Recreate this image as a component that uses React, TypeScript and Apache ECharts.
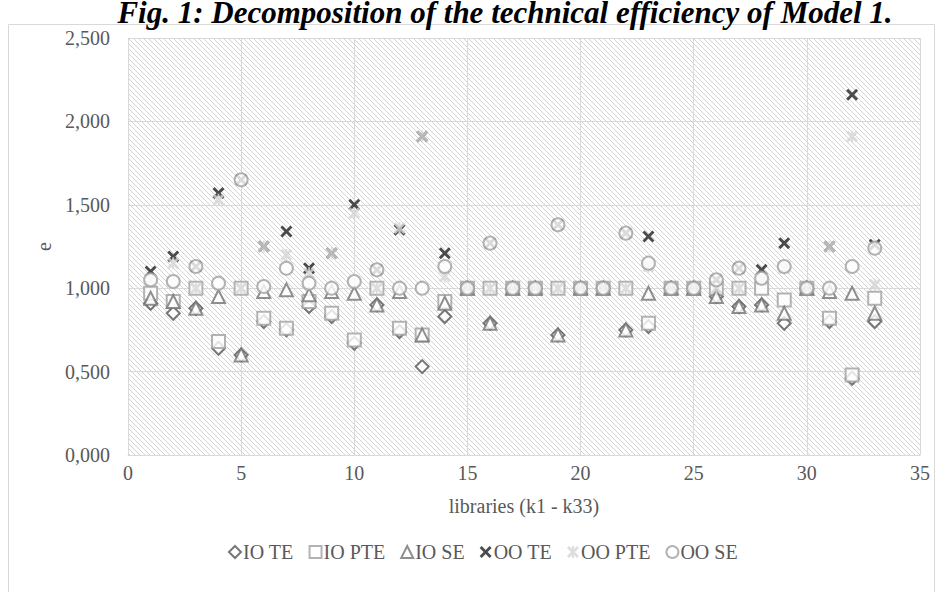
import React, { useEffect, useRef } from "react";
import * as echarts from "echarts";

const libraries = [1,2,3,4,5,6,7,8,9,10,11,12,13,14,15,16,17,18,19,20,21,22,23,24,25,26,27,28,29,30,31,32,33];

const ioTE = [0.91,0.85,0.88,0.64,0.60,0.80,0.75,0.89,0.83,0.67,0.90,0.74,0.53,0.83,1.00,0.79,1.00,1.00,0.72,1.00,1.00,0.75,0.77,1.00,1.00,0.95,0.89,0.90,0.79,1.00,0.80,0.46,0.80];
const ioPTE = [0.97,0.92,1.00,0.68,1.00,0.82,0.76,0.92,0.85,0.69,1.00,0.76,0.72,0.92,1.00,1.00,1.00,1.00,1.00,1.00,1.00,1.00,0.79,1.00,1.00,1.00,1.00,1.00,0.93,1.00,0.82,0.48,0.94];
const ioSE = [0.94,0.92,0.88,0.95,0.60,0.98,0.99,0.96,0.98,0.97,0.90,0.98,0.72,0.91,1.00,0.79,1.00,1.00,0.72,1.00,1.00,0.75,0.97,1.00,1.00,0.95,0.89,0.90,0.85,1.00,0.98,0.97,0.85];
const ooTE = [1.10,1.19,1.13,1.57,1.65,1.25,1.34,1.12,1.21,1.50,1.11,1.35,1.91,1.21,1.00,1.27,1.00,1.00,1.38,1.00,1.00,1.33,1.31,1.00,1.00,1.05,1.12,1.11,1.27,1.00,1.25,2.16,1.26];
const ooPTE = [1.05,1.15,1.00,1.53,1.00,1.25,1.20,1.09,1.21,1.45,1.00,1.36,1.91,1.07,1.00,1.00,1.00,1.00,1.00,1.00,1.00,1.00,1.13,1.00,1.00,1.00,1.00,1.05,1.12,1.00,1.25,1.91,1.02];
const ooSE = [1.05,1.04,1.13,1.03,1.65,1.01,1.12,1.03,1.00,1.04,1.11,1.00,1.00,1.13,1.00,1.27,1.00,1.00,1.38,1.00,1.00,1.33,1.15,1.00,1.00,1.05,1.12,1.06,1.13,1.00,1.00,1.13,1.24];

const seriesNames = ["IO TE", "IO PTE", "IO SE", "OO TE", "OO PTE", "OO SE"];
const titleText = "Fig. 1: Decomposition of the technical efficiency of Model 1.";
const xAxisName = "libraries (k1 - k33)";
const yAxisName = "e";

const X_PATH = "path://M0,1.7 L1.7,0 L5,3.3 L8.3,0 L10,1.7 L6.7,5 L10,8.3 L8.3,10 L5,6.7 L1.7,10 L0,8.3 L3.3,5 Z";
const STAR_PATH = "path://M0,1.7 L1.7,0 L5,3.3 L8.3,0 L10,1.7 L6.7,5 L10,8.3 L8.3,10 L5,6.7 L1.7,10 L0,8.3 L3.3,5 Z M4.2,0 L5.8,0 L5.8,10 L4.2,10 Z";

function makeHatch(): string {
  const c = document.createElement("canvas");
  c.width = 5;
  c.height = 5;
  const ctx = c.getContext("2d")!;
  ctx.fillStyle = "#ffffff";
  ctx.fillRect(0, 0, 5, 5);
  ctx.strokeStyle = "#d3d3d3";
  ctx.lineWidth = 1;
  ctx.beginPath();
  ctx.moveTo(-1, -1);
  ctx.lineTo(6, 6);
  ctx.moveTo(-1, 4);
  ctx.lineTo(1, 6);
  ctx.moveTo(4, -1);
  ctx.lineTo(6, 1);
  ctx.stroke();
  return c.toDataURL();
}

export default function App() {
  const ref = useRef<HTMLDivElement>(null);
  useEffect(() => {
    if (!ref.current) return;
    const chart = echarts.init(ref.current, null, { renderer: "svg" });
    const font = "Liberation Serif";
    const pair = (arr: number[]) => libraries.map((k, i) => [k, arr[i]]);
    const hollow = (color: string) => ({ color: "#ffffff", borderColor: color, borderWidth: 2 });
    const series: any[] = [
      { name: seriesNames[0], data: pair(ioTE), symbol: "diamond", symbolSize: 13, itemStyle: hollow("#555555") },
      { name: seriesNames[1], data: pair(ioPTE), symbol: "rect", symbolSize: 13, itemStyle: hollow("#a0a0a0") },
      { name: seriesNames[2], data: pair(ioSE), symbol: "triangle", symbolSize: 13, itemStyle: hollow("#737373") },
      { name: seriesNames[3], data: pair(ooTE), symbol: X_PATH, symbolSize: 12, itemStyle: { color: "#1f1f1f" } },
      { name: seriesNames[4], data: pair(ooPTE), symbol: STAR_PATH, symbolSize: 12, itemStyle: { color: "#d4d4d4" } },
      { name: seriesNames[5], data: pair(ooSE), symbol: "circle", symbolSize: 13, itemStyle: hollow("#a0a0a0") },
    ].map((s) => ({ ...s, type: "scatter" }));

    chart.setOption({
      animation: false,
      backgroundColor: "#ffffff",
      title: {
        text: titleText,
        left: 505,
        textAlign: "center",
        top: 0,
        padding: 0,
        textStyle: { fontFamily: font, fontStyle: "italic", fontWeight: "bold", fontSize: 31, lineHeight: 24, color: "#000000" },
      },
      graphic: [
        {
          type: "rect",
          shape: { x: 8.5, y: 24.5, width: 926, height: 600 },
          style: { fill: "none", stroke: "#d9d9d9", lineWidth: 1 },
          z: -10,
          silent: true,
        },
      ],
      grid: {
        left: 128,
        right: 23,
        top: 38,
        bottom: 137,
        show: true,
        borderWidth: 0,
        backgroundColor: { image: makeHatch(), imageWidth: 5, imageHeight: 5, repeat: "repeat" },
      },
      legend: {
        data: seriesNames,
        left: 223,
        top: 537,
        itemWidth: 12,
        itemHeight: 12,
        itemGap: 15,
        textStyle: { fontFamily: font, fontSize: 20, color: "#595959", padding: [0, 0, 0, -3] },
      },
      xAxis: {
        type: "value",
        min: 0,
        max: 35,
        interval: 5,
        name: xAxisName,
        nameLocation: "middle",
        nameGap: 41,
        nameTextStyle: { fontFamily: font, fontSize: 20, color: "#595959" },
        axisLine: { show: true, lineStyle: { color: "#d9d9d9" } },
        axisTick: { show: false },
        axisLabel: { fontFamily: font, fontSize: 20, color: "#595959", margin: 8 },
        splitLine: { show: true, lineStyle: { color: "#d9d9d9", width: 1 } },
      },
      yAxis: {
        type: "value",
        min: 0,
        max: 2.5,
        interval: 0.5,
        name: yAxisName,
        nameLocation: "middle",
        nameRotate: 90,
        nameGap: 70,
        nameTextStyle: { fontFamily: font, fontSize: 20, color: "#595959" },
        axisLine: { show: true, lineStyle: { color: "#d9d9d9" } },
        axisTick: { show: false },
        axisLabel: {
          fontFamily: font,
          fontSize: 20,
          color: "#595959",
          margin: 18,
          formatter: (v: number) => v.toFixed(3).replace(".", ","),
        },
        splitLine: { show: true, lineStyle: { color: "#d9d9d9", width: 1 } },
      },
      series,
    });
    return () => chart.dispose();
  }, []);
  return <div ref={ref} style={{ position: "fixed", left: 0, top: 0, width: 943, height: 592 }} />;
}
